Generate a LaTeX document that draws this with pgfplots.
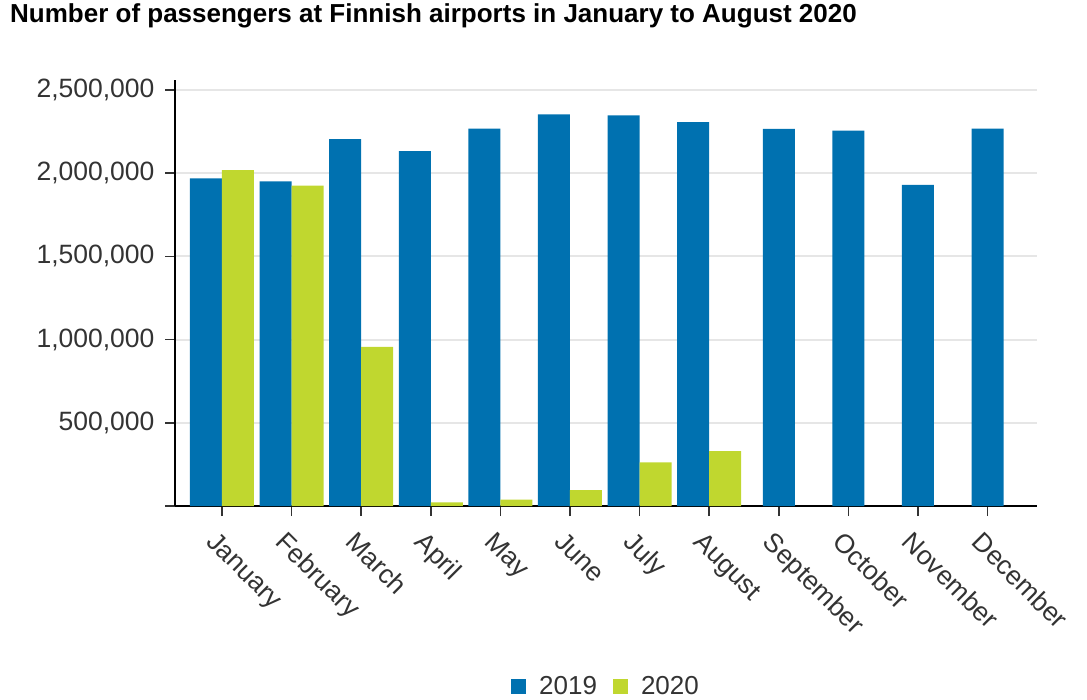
\documentclass[border=0pt]{standalone}
\usepackage{pgfplots}
\pgfplotsset{compat=1.18}
\usepackage{fontspec}
\setmainfont{Liberation Sans}
\definecolor{c2019}{HTML}{0071B0}
\definecolor{c2020}{HTML}{C0D72F}
\definecolor{gridgray}{HTML}{E6E6E6}
\definecolor{labelgray}{HTML}{333333}
\pgfplotsset{sqlegend/.style={legend image code/.code={\fill[##1] (0pt,-7.5pt) rectangle (15pt,7.5pt); \path (26pt,0pt);}}}
\begin{document}
\begin{tikzpicture}
\path[use as bounding box] (0,0) rectangle (1087pt,-700pt);
\node[anchor=base west, inner sep=0pt, font=\fontsize{26}{30}\selectfont\bfseries]
  at (10pt,-23pt) {Number of passengers at Finnish airports in January to August 2020};
\begin{axis}[
    at={(175pt,-506pt)}, anchor=south west,
    scale only axis, width=862pt, height=426pt,
    ybar, bar width=32pt,
    xmin=-0.675, xmax=11.71,
    ymin=0, ymax=2560000,
    scaled y ticks=false,
    axis x line*=bottom, axis y line*=left,
    axis line style={line width=1.5pt, black},
    tick align=outside, major tick length=10pt,
    tick style={line width=1.5pt, labelgray},
    xtick={0,...,11},
    xticklabels={January,February,March,April,May,June,July,August,September,October,November,December},
    ytick={0,500000,1000000,1500000,2000000,2500000},
    yticklabels={{},{500,000},{1,000,000},{1,500,000},{2,000,000},{2,500,000}},
    ymajorgrids, grid style={gridgray, line width=2pt},
    ticklabel style={font=\fontsize{26.5}{30}\selectfont, text=labelgray},
    xticklabel style={rotate=-45, anchor=north west, yshift=-9pt, xshift=4pt},
    yticklabel style={anchor=east, xshift=-7pt},
    legend style={at={(axis description cs:0.5,0)}, yshift=-180pt, anchor=center,
        draw=none, fill=none, legend columns=2,
        font=\fontsize{26}{30}\selectfont, text=labelgray,
        /tikz/every even column/.append style={column sep=14pt}},
]
\addplot[fill=c2019, draw=none, bar shift=-16pt, sqlegend] coordinates {
    (0,1969000) (1,1951000) (2,2204000) (3,2133000)
    (4,2268000) (5,2354000) (6,2348000) (7,2307000)
};
\addplot[fill=c2019, draw=none, bar shift=0pt, forget plot] coordinates {
    (8,2266000) (9,2256000) (10,1930000) (11,2268000)
};
\addplot[fill=c2020, draw=none, bar shift=16pt, sqlegend] coordinates {
    (0,2019000) (1,1925000) (2,957000) (3,22000)
    (4,38000) (5,96000) (6,262000) (7,330000)
};
\legend{2019,2020}
\end{axis}
\end{tikzpicture}
\end{document}
